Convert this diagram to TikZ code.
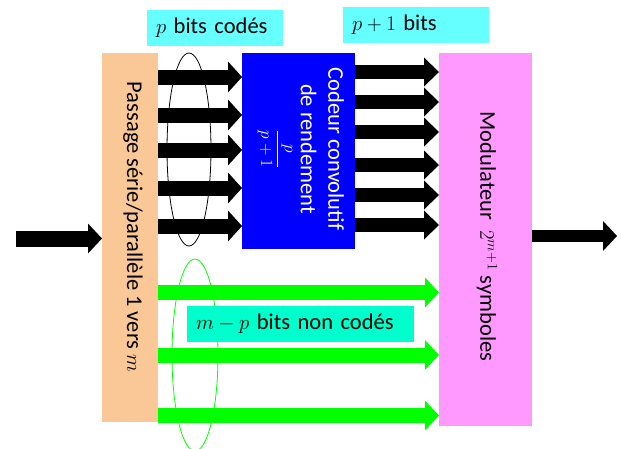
\documentclass[tikz,border=0pt]{standalone}
\usepackage{fontspec}
\setmainfont{Carlito}
\usetikzlibrary{arrows.meta,shapes.geometric}
\definecolor{peach}{RGB}{250,200,150}
\definecolor{pinkm}{RGB}{255,153,255}
\definecolor{cyanl}{RGB}{102,255,255}
\definecolor{turq}{RGB}{0,255,204}
\definecolor{greenf}{RGB}{0,255,0}
\begin{document}
\begin{tikzpicture}[x=1pt,y=-1pt,
  box/.style={draw=none, inner sep=0pt, outer sep=0pt},
  fat/.style={line width=15pt, -{Triangle[width=31pt,length=14pt,line width=0pt]}},
  lab/.style={inner xsep=9pt, inner ysep=0pt, align=left, minimum height=36pt, font=\fontsize{22.5}{26}\selectfont},
  txt/.style={rotate=-90, font=\fontsize{22.5}{26}\selectfont},
  grp/.style={ellipse, draw, line width=0.8pt, inner sep=0pt}]
\useasboundingbox (0,0) rectangle (621,448);
\clip (0,0) rectangle (621,448);
% boxes
\node[box, fill=peach, minimum width=56pt, minimum height=369pt] (ser) at (130,237.5) {};
\node[box, fill=blue, minimum width=113pt, minimum height=196pt] (enc) at (298.5,151) {};
\node[box, fill=pinkm, minimum width=93pt, minimum height=373pt] (mod) at (485.5,239.5) {};
% texts in boxes
\node[txt] (sertxt) at (133,227) {Passage série/parallèle 1 vers $m$};
\node[txt, text=white, align=center, font=\fontsize{22.5}{27.7}\selectfont] (enctxt) at (301,149) {Codeur convolutif\\de rendement\\{\fontsize{17}{20}\selectfont$\displaystyle\frac{p}{p+1}$}};
\node[txt] (modtxt) at (487,236.5) {Modulateur\ \ $2^{m+1}$ symboles};
% group ellipses
\node[grp, draw=black, minimum width=44pt, minimum height=193pt] (g1) at (189,149.5) {};
\node[grp, draw=greenf, minimum width=46pt, minimum height=192pt] (g2) at (195,355) {};
% input / output
\coordinate (in) at (16,238.5);
\coordinate (out) at (617,236);
\draw[fat, line width=16pt, -{Triangle[width=30pt,length=14pt,line width=0pt]}] (in) -- (ser.west |- in);
\draw[fat, line width=12pt, -{Triangle[width=30pt,length=14pt,line width=0pt]}] (mod.east |- out) -- (out);
% coded bits
\foreach \y in {77,115,150,188,226}
  \draw[fat] (ser.east |- 0,\y) -- (enc.west |- 0,\y);
\foreach \y in {72,102,132,165,195,225}
  \draw[fat, line width=14.5pt, -{Triangle[width=29pt,length=15pt,line width=0pt]}] (enc.east |- 0,\y) -- (mod.west |- 0,\y);
% uncoded bits
\foreach \y in {292.5,355,415.5}
  \draw[fat, draw=greenf, -{Triangle[width=30pt,length=14pt,line width=0pt,fill=greenf]}] (ser.east |- 0,\y) -- (mod.west |- 0,\y);
% labels
\node[lab, fill=cyanl, text width=118pt] (l1) at (215,27.5) {$p$ bits codés};
\node[lab, fill=cyanl, text width=128pt] (l2) at (416,25) {$p+1$ bits};
\node[lab, fill=turq, text width=209pt] (l3) at (300.5,324) {$m-p$ bits non codés};
\end{tikzpicture}
\end{document}
